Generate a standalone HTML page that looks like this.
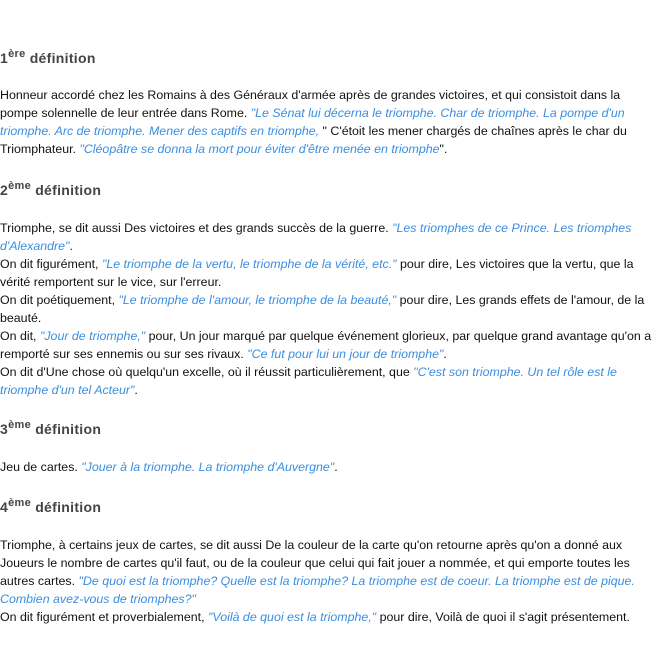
<!DOCTYPE html>
<html><head><meta charset="utf-8"><style>
body{margin:0;width:652px;height:664px;background:#fff;position:relative;font-family:"Liberation Sans",Arial,sans-serif;font-size:12.4px;color:#111;overflow:hidden}
.l{position:absolute;left:0;height:18px;line-height:18px;white-space:nowrap}
.h{position:absolute;left:0;font-size:14px;font-weight:bold;color:#444;line-height:18px;white-space:nowrap;letter-spacing:0.3px}
.h sup{font-size:11px;line-height:0;vertical-align:6px}
i{color:#3a8ee0}
</style></head><body>
<div class="h" style="top:49px">1<sup>ère</sup> définition</div>
<div class="l" style="top:86px">Honneur accordé chez les Romains à des Généraux d'armée après de grandes victoires, et qui consistoit dans la</div>
<div class="l" style="top:104px">pompe solennelle de leur entrée dans Rome. <i>"Le Sénat lui décerna le triomphe. Char de triomphe. La pompe d'un</i></div>
<div class="l" style="top:122px"><i>triomphe. Arc de triomphe. Mener des captifs en triomphe, </i>" C'étoit les mener chargés de chaînes après le char du</div>
<div class="l" style="top:140px">Triomphateur. <i>"Cléopâtre se donna la mort pour éviter d'être menée en triomphe</i>".</div>
<div class="h" style="top:181px">2<sup>ème</sup> définition</div>
<div class="l" style="top:219px">Triomphe, se dit aussi Des victoires et des grands succès de la guerre. <i>"Les triomphes de ce Prince. Les triomphes</i></div>
<div class="l" style="top:237px"><i>d'Alexandre"</i>.</div>
<div class="l" style="top:255px">On dit figurément, <i>"Le triomphe de la vertu, le triomphe de la vérité, etc."</i> pour dire, Les victoires que la vertu, que la</div>
<div class="l" style="top:273px">vérité remportent sur le vice, sur l'erreur.</div>
<div class="l" style="top:291px">On dit poétiquement, <i>"Le triomphe de l'amour, le triomphe de la beauté,"</i> pour dire, Les grands effets de l'amour, de la</div>
<div class="l" style="top:309px">beauté.</div>
<div class="l" style="top:327px">On dit, <i>"Jour de triomphe,"</i> pour, Un jour marqué par quelque événement glorieux, par quelque grand avantage qu'on a</div>
<div class="l" style="top:345px">remporté sur ses ennemis ou sur ses rivaux. <i>"Ce fut pour lui un jour de triomphe"</i>.</div>
<div class="l" style="top:363px">On dit d'Une chose où quelqu'un excelle, où il réussit particulièrement, que <i>"C'est son triomphe. Un tel rôle est le</i></div>
<div class="l" style="top:381px"><i>triomphe d'un tel Acteur"</i>.</div>
<div class="h" style="top:420px">3<sup>ème</sup> définition</div>
<div class="l" style="top:458px">Jeu de cartes. <i>"Jouer à la triomphe. La triomphe d'Auvergne"</i>.</div>
<div class="h" style="top:498px">4<sup>ème</sup> définition</div>
<div class="l" style="top:536px">Triomphe, à certains jeux de cartes, se dit aussi De la couleur de la carte qu'on retourne après qu'on a donné aux</div>
<div class="l" style="top:554px">Joueurs le nombre de cartes qu'il faut, ou de la couleur que celui qui fait jouer a nommée, et qui emporte toutes les</div>
<div class="l" style="top:572px">autres cartes. <i>"De quoi est la triomphe? Quelle est la triomphe? La triomphe est de coeur. La triomphe est de pique.</i></div>
<div class="l" style="top:590px"><i>Combien avez-vous de triomphes?"</i></div>
<div class="l" style="top:608px">On dit figurément et proverbialement, <i>"Voilà de quoi est la triomphe,"</i> pour dire, Voilà de quoi il s'agit présentement.</div>
</body></html>
